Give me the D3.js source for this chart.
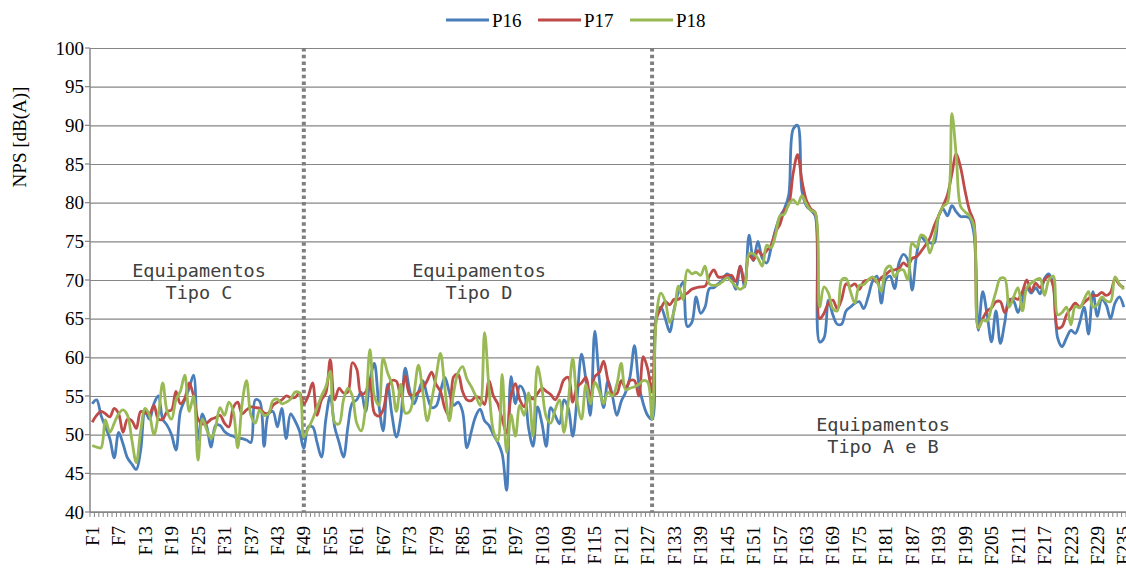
<!DOCTYPE html>
<html>
<head>
<meta charset="utf-8">
<script src="https://cdn.jsdelivr.net/npm/d3@7"></script>
<style>
  body { margin: 0; background: #fff; }
</style>
</head>
<body>
<div id="chart"></div>
<script>
// categories F1..F235
const categories = d3.range(1, 236).map(i => 'F' + i);

const p16 = [
  54, 54.5, 52.5, 51, 49.5, 47, 50.3, 48.8, 47, 46.2,
  45.5, 48, 53, 52, 54, 55, 52, 51.2, 50, 48,
  53, 54.5, 56, 57.7, 49.3, 52.7, 51, 48.4, 51.2, 51.2,
  50.4, 50, 49.8, 49.5, 49.5, 49.3, 49, 54.5, 54.3, 48.5,
  52.7, 53, 51, 53.4, 49.5, 52.7, 51.8, 50.5, 48.2, 51,
  51, 49, 47.1, 52, 55, 51, 49, 47.1, 51, 54.1,
  54.5, 55.5, 53, 57, 59.2, 54, 50.5, 56.5, 52.5, 49.7,
  52.2, 58.6, 55.8, 54, 55.5, 57, 55, 53.5, 53.7, 55.6,
  57.4, 55.5, 53.8, 54.2, 53, 48.3, 50.4, 52.4, 53.3, 51.8,
  51.2, 50, 49, 47.5, 42.8, 57.5, 54, 56.3, 55.5, 50.8,
  48.5, 53.6, 51.5, 48.5, 53.5, 52.5, 51.4, 54.5, 53.4, 49.8,
  54.8, 60.4, 57, 52.5, 63.4, 57.3, 53.5, 57, 55, 52.5,
  54.3, 55.5, 57.5, 61.5, 56.5, 54, 52.5, 52, 65.5, 66.5,
  65, 63.3, 66.2, 68.5, 69.7, 64, 64.5, 67.8, 65.7, 66.5,
  68.9, 69, 69.5, 70, 70.8, 70.2, 68.8, 71.8, 69.1, 75.8,
  72.5, 75, 72.8, 72.2, 74.2, 76.5, 78.2, 79.2, 81, 89.5,
  90, 81.5, 79.6, 79, 78.3, 62, 62.5, 67.4, 65.5, 64.3,
  64.3, 66, 66.5, 67, 67.2, 66.3, 67.8, 69.8, 70.5, 67,
  70.1, 70.5, 68.9, 72.2, 73.3, 72.6, 68.7, 73.3, 75.6, 75,
  74.8, 74.8, 78.3, 79.2, 78.3, 79.6, 78.8, 78.2, 78.2, 78,
  76, 63.5, 68.5, 65.5, 62, 66, 61.8, 64.5, 67.5, 67.3,
  65.8, 67.5, 69, 68.3, 69, 68.2, 70.2, 70.8, 69.3, 62.5,
  61.4, 62.5, 63.5, 63.1, 64.5, 66.5, 63, 68.5, 65.3, 67.5,
  66.8, 65, 67, 67.8, 66.5
];

const p17 = [
  51.6, 52.5, 53, 52.7, 52.3, 53.4, 52.7, 50.3, 52, 51.8,
  50.8, 53, 52.8, 52.7, 53.8, 52, 52, 53, 53.2, 55.6,
  54, 54.7, 56.7, 55, 52, 51.4, 51.5, 52, 52.2, 52.5,
  51.5, 51, 53.5, 54.2, 52.7, 53.2, 53.6, 53.5, 53.4, 52.8,
  52.8, 53.8, 54.2, 54.5, 55, 54.8, 54.8, 55.4, 54, 55,
  56.7, 52.5, 54.5, 55.4, 59.7, 54.5, 56, 55.4, 55.5, 59.3,
  58.5, 55.2, 55.5, 57.2, 52.8, 52.4, 53.2, 56, 57, 56.9,
  55, 57.6, 55.2, 55.1, 55.5, 56, 57, 58.1, 56.5, 55.6,
  53.4, 52.4, 57.5, 57.8, 55.6, 54.5, 54.4, 54.9, 54.7, 53.9,
  57, 55, 54, 52, 50.2, 55, 56.6, 54.5, 53.6, 55,
  54.6, 55.3, 56, 55.6, 55.2, 54.5, 55.5, 57.1, 57.4, 54.2,
  56.2, 56.7, 57.4, 54.6, 57.5, 58, 59.5, 57, 55.3, 55.3,
  57, 56, 57, 57, 55, 60.1, 58.5, 55.5, 65, 66.3,
  67.2, 66.8, 67.5, 67.5, 68, 68.3, 68.8, 69, 69.1, 69.2,
  70.5, 71.3, 70.4, 70.4, 70.6, 70.6, 69.8, 71.8, 69.5, 73.2,
  72.6, 73.8, 73.2, 73.8, 74.5, 76.2, 77.2, 79, 79.8, 83.8,
  86.2, 82.8, 80.3, 79.2, 78.7, 65, 65.7, 67, 67.4, 66.3,
  67.5, 69.5, 69.2, 69.5, 68.8, 69.8, 70, 70.3, 69.7, 70.3,
  70.7, 71.2, 71.3, 71.5, 72.2, 71.8, 72.8, 73, 73.7, 74.5,
  75.4, 77, 78.3, 79.6, 81, 83.7, 86.3, 84.5, 81.5, 79,
  77.5, 63.8, 65, 66, 66.4, 67.2, 67.2, 65.8, 67, 67.7,
  67.5, 68.5, 70, 68.5, 69.6, 69, 70, 70.5, 69.2, 63.8,
  64, 65.5, 66.3, 67, 66.5, 67.1, 67.6, 68, 68, 68.4,
  68, 68.4, 70.1, 69.4, 69
];

const p18 = [
  48.6, 48.4, 48.3, 51.9, 50.3, 51.5, 52.7, 53.2, 52.5, 49.3,
  46.4, 50.5, 53.4, 52.5, 50, 52.5, 56.7, 53, 52, 54.5,
  55.6, 57.7, 53, 55, 46.7, 52, 50.6, 49.5, 51, 53.5,
  52.5, 54.2, 53, 48.3, 54, 57, 52.5, 51.5, 53.2, 52.5,
  52.7, 54.4, 54.6, 54, 54.2, 54.6, 55.5, 55.4, 49.7, 50.8,
  52, 53.5, 55, 56.2, 58.2, 51.6, 51.4, 54.5, 56, 55,
  51.5, 50.5, 53.5, 61, 55, 53.8, 59.9, 58, 56.5, 53,
  56.5, 52.8, 53, 55.4, 59, 55.5, 51.8, 54.5, 57.5, 60.5,
  56, 51.8, 55.5, 58, 58.8, 57.2, 56.2, 55, 53.8, 63.2,
  56, 50.5, 49.2, 57.8, 47.7, 52.6, 49.8, 53.8, 52.5, 55.4,
  49.8, 58.8, 56, 52.3, 51.5, 53.2, 54.5, 50.3, 54.3, 59.9,
  54.3, 52, 56.5, 54, 56.8, 55.7, 54, 55.5, 55, 56.5,
  59.2, 55.8, 56, 56.2, 56.5, 57, 56.8, 52, 65.5, 68.3,
  67.2, 64.5, 66, 69.2, 67.5, 71.3, 70.8, 71, 70.6, 71.8,
  69.5, 69.3, 69.4, 69.8, 70.3, 69.8, 69.2, 68.8, 69.3, 73.4,
  73.4, 72.8, 71.8, 74.5, 74.2, 75.8, 78.3, 78.5, 79.8, 80.4,
  79.8, 80.9, 79.8, 79, 78.7, 66.5, 69.1, 68.3, 66.3, 66,
  70, 70.2, 68.5, 67, 69.3, 69.4, 70, 70.4, 69.8, 68.5,
  71.4, 71.8, 70.4, 71.2, 71.3, 70, 74.8, 74.2, 75.8, 75.5,
  73.5, 75.5, 78.3, 79.5, 80, 91.5, 86, 79.5, 78.8, 78.3,
  77, 63.8, 64.8, 64.7, 66.5, 68.5, 70.2, 70.2, 66.5, 67.8,
  69, 66, 69, 69.6, 70, 70.2, 68, 70, 70.5, 65.5,
  65.8, 66.5, 64.2, 66.6, 66.4, 67.5, 68.5, 66.5, 66.8, 67.8,
  67.3, 67.2, 70.4, 69.5, 68.8
];

const seriesNames = ['P16', 'P17', 'P18'];
const seriesColors = ['#4A7EBB', '#BE4B48', '#98B954'];
const yTicks = [40, 45, 50, 55, 60, 65, 70, 75, 80, 85, 90, 95, 100];
const dividers = ['F49', 'F128'];

const width = 1126;
const height = 576;
const margin = {top: 48, right: 0, bottom: 64, left: 90};
const plotW = width - margin.left - margin.right;
const plotH = height - margin.top - margin.bottom;
const gridColor = '#868686';
const serif = '"Liberation Serif", "Times New Roman", serif';
const mono = '"DejaVu Sans Mono", monospace';

const svg = d3.select('#chart')
  .append('svg')
  .attr('width', width)
  .attr('height', height)
  .style('font-family', serif);

const g = svg.append('g')
  .attr('transform', `translate(${margin.left},${margin.top})`);

const x = d3.scalePoint().domain(categories).range([0, plotW]).padding(0.5);
const y = d3.scaleLinear().domain([40, 100]).range([plotH, 0]);
const step = x.step();

// horizontal grid + y labels
const yAxis = g.append('g')
  .call(d3.axisLeft(y).tickValues(yTicks).tickSize(-plotW).tickPadding(6).tickFormat(d3.format('d')));
yAxis.select('.domain').remove();
yAxis.selectAll('.tick line').attr('stroke', gridColor).attr('stroke-width', 1.2);
yAxis.selectAll('.tick text')
  .attr('fill', '#000')
  .style('font-family', serif)
  .style('font-size', '19px');

// small outer ticks on y
g.append('g')
  .selectAll('line')
  .data(yTicks)
  .join('line')
  .attr('x1', -5).attr('x2', 0)
  .attr('y1', d => y(d)).attr('y2', d => y(d))
  .attr('stroke', gridColor).attr('stroke-width', 1.2);

// left axis line
g.append('line')
  .attr('x1', 0).attr('x2', 0)
  .attr('y1', 0).attr('y2', plotH)
  .attr('stroke', gridColor).attr('stroke-width', 1.5);

// x axis line + per category ticks
g.append('line')
  .attr('x1', 0).attr('x2', plotW)
  .attr('y1', plotH).attr('y2', plotH)
  .attr('stroke', gridColor).attr('stroke-width', 1.5);

g.append('g')
  .selectAll('line')
  .data(categories.concat(['end']))
  .join('line')
  .attr('x1', (d, i) => i * step).attr('x2', (d, i) => i * step)
  .attr('y1', plotH).attr('y2', plotH + 5)
  .attr('stroke', gridColor).attr('stroke-width', 1);

g.append('g')
  .selectAll('text')
  .data(categories.filter((d, i) => i % 6 === 0))
  .join('text')
  .attr('transform', d => `translate(${x(d)},${plotH + 14}) rotate(-90)`)
  .attr('text-anchor', 'end')
  .attr('dy', '0.35em')
  .style('font-size', '19px')
  .text(d => d);

// dotted dividers
g.append('g')
  .selectAll('line')
  .data(dividers)
  .join('line')
  .attr('x1', d => x(d)).attr('x2', d => x(d))
  .attr('y1', 0).attr('y2', plotH)
  .attr('stroke', '#7f7f7f')
  .attr('stroke-width', 4)
  .attr('stroke-dasharray', '3.5 3.2');

// series lines
const line = d3.line()
  .x((d, i) => x(categories[i]))
  .y(d => y(d))
  .curve(d3.curveCatmullRom.alpha(0.5));

[p16, p17, p18].forEach((values, k) => {
  g.append('path')
    .datum(values)
    .attr('fill', 'none')
    .attr('stroke', seriesColors[k])
    .attr('stroke-width', 2.8)
    .attr('stroke-linejoin', 'round')
    .attr('d', line);
});

// annotations
const notes = [
  {lines: ['Equipamentos', 'Tipo C'], cx: 199, top: 277},
  {lines: ['Equipamentos', 'Tipo D'], cx: 479, top: 277},
  {lines: ['Equipamentos', 'Tipo A e B'], cx: 883, top: 431}
];
notes.forEach(n => {
  svg.append('text')
    .attr('x', n.cx)
    .attr('y', n.top)
    .attr('text-anchor', 'middle')
    .attr('fill', '#404040')
    .style('font-family', mono)
    .style('font-size', '18.5px')
    .selectAll('tspan')
    .data(n.lines)
    .join('tspan')
    .attr('x', n.cx)
    .attr('dy', (d, i) => i === 0 ? 0 : 22)
    .text(d => d);
});

// y title
svg.append('text')
  .attr('transform', 'translate(26,137) rotate(-90)')
  .attr('text-anchor', 'middle')
  .style('font-size', '19px')
  .text('NPS [dB(A)]');

// legend
const legend = svg.append('g').attr('transform', 'translate(446,20)');
seriesNames.forEach((name, k) => {
  const item = legend.append('g').attr('transform', `translate(${k * 92},0)`);
  item.append('line')
    .attr('x1', 0).attr('x2', 43)
    .attr('y1', 0).attr('y2', 0)
    .attr('stroke', seriesColors[k])
    .attr('stroke-width', 3);
  item.append('text')
    .attr('x', 46)
    .attr('dy', '0.35em')
    .style('font-size', '19px')
    .text(name);
});
</script>
</body>
</html>
